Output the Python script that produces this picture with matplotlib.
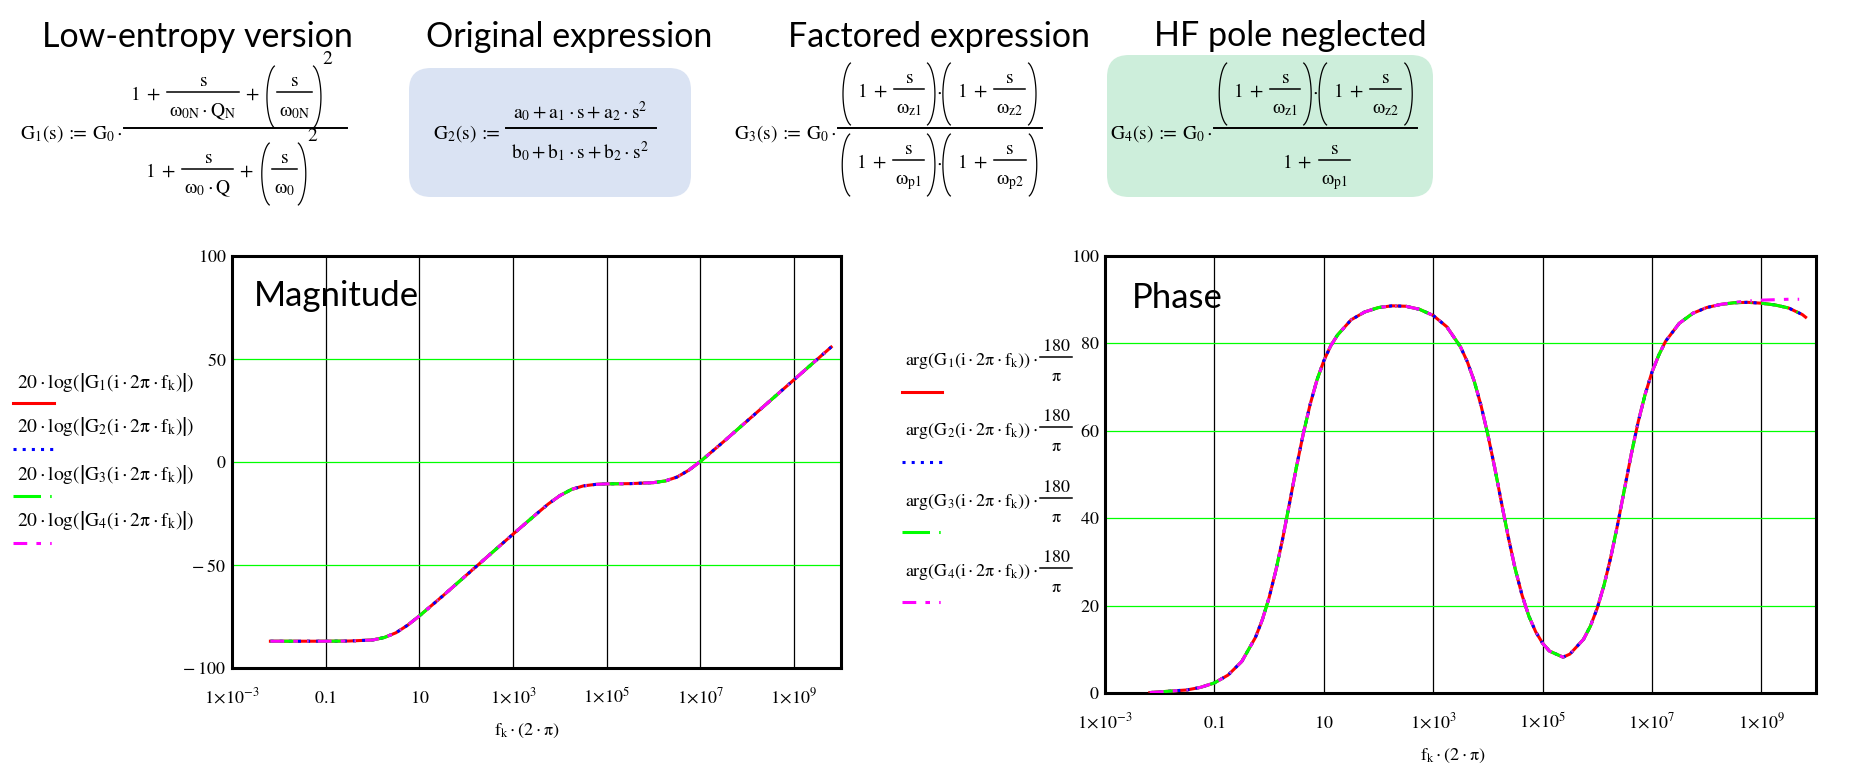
import matplotlib
matplotlib.use('Agg')
import matplotlib.pyplot as plt
import numpy as np
from matplotlib.patches import FancyBboxPatch
from matplotlib.lines import Line2D

plt.rcParams['font.family'] = 'STIXGeneral'
plt.rcParams['mathtext.fontset'] = 'stix'
plt.rcParams['mathtext.default'] = 'rm'

W, H = 1875, 777

# values: x is log10(f_k*(2*pi))
logw_mag = [-2.18, -1.5, -1.0, -0.5, 0.0, 0.25, 0.5, 0.75, 1.0, 1.5, 2.0, 2.5,
            3.0, 3.5, 3.75, 4.0, 4.25, 4.5, 4.75, 5.0, 5.5, 6.0, 6.25, 6.5,
            6.75, 7.0, 7.5, 8.0, 8.5, 9.0, 9.5, 9.79]
mag_g1 = [-87.0, -87.0, -87.0, -86.9, -86.4, -85.2, -82.9, -79.2, -74.7, -65.0,
          -55.0, -45.0, -35.0, -25.2, -20.4, -16.3, -13.3, -11.6, -10.9, -10.6,
          -10.5, -10.0, -9.2, -7.3, -4.0, 0.3, 10.0, 20.0, 30.0, 40.0, 50.0, 55.8]
# G2, G3, G4 sit on top of G1 at this resolution
mag_g2 = list(mag_g1)
mag_g3 = list(mag_g1)
mag_g4 = list(mag_g1)

logw_ph = [-2.18, -1.5, -1.25, -1.0, -0.75, -0.5, -0.25, -0.125, 0.0, 0.125, 0.25,
           0.375, 0.5, 0.625, 0.75, 0.875, 1.0, 1.125, 1.25, 1.5, 1.75, 2.0, 2.25,
           2.5, 2.75, 3.0, 3.25, 3.5, 3.625, 3.75, 3.875, 4.0, 4.125, 4.25, 4.375,
           4.5, 4.625, 4.75, 4.875, 5.0, 5.125, 5.25, 5.375, 5.5, 5.75, 5.875,
           6.0, 6.125, 6.25, 6.375, 6.5, 6.625, 6.75, 6.875, 7.0, 7.125, 7.25,
           7.5, 7.75, 8.0, 8.25, 8.5, 8.75, 9.0, 9.25, 9.5, 9.75, 9.81]
ph_g1 = [0.1, 0.7, 1.3, 2.3, 4.1, 7.2, 12.7, 16.7, 21.8, 28.1, 35.4,
         43.5, 51.7, 59.3, 66.0, 71.6, 76.0, 79.4, 81.9, 85.4, 87.2, 88.2, 88.6,
         88.5, 87.8, 86.4, 83.8, 79.2, 75.8, 71.4, 65.8, 59.1, 51.6, 43.5, 35.6,
         28.4, 22.4, 17.6, 14.0, 11.4, 9.6, 8.9, 8.2, 8.9, 12.3, 15.3,
         19.4, 24.7, 31.2, 38.7, 46.8, 54.8, 62.1, 68.3, 73.4, 77.3, 80.5,
         84.6, 86.9, 88.2, 88.9, 89.3, 89.4, 89.2, 88.8, 88.1, 86.6, 86.0]
ph_g2 = list(ph_g1)
ph_g3 = list(ph_g1)
# G4 (HF pole neglected) stays near 90 at the top end
ph_g4 = list(ph_g1[:-7]) + [89.4, 89.7, 89.9, 90.0, 90.1, 90.1, 90.1]

xticks = [1e-3, 1e-1, 1e1, 1e3, 1e5, 1e7, 1e9]
xtick_labels = [r'$1\!\times\!10^{-3}$', r'$0.1$', r'$10$', r'$1\!\times\!10^{3}$',
                r'$1\!\times\!10^{5}$', r'$1\!\times\!10^{7}$', r'$1\!\times\!10^{9}$']
mag_yticks = [-100, -50, 0, 50, 100]
mag_ylabels = [r'$-\;100$', r'$-\;50$', r'$0$', r'$50$', r'$100$']
ph_yticks = [0, 20, 40, 60, 80, 100]
ph_ylabels = ['$0$', '$20$', '$40$', '$60$', '$80$', '$100$']

GREEN = '#00ff00'
styles = [
    dict(color='#ff0000', ls='-'),
    dict(color='#0000ff', ls=(0, (1, 2))),
    dict(color=GREEN, ls=(0, (9, 3, 0.5, 3))),
    dict(color='#ff00ff', ls=(0, (4.5, 3, 1.5, 3, 0.5, 3))),
]


def fx(px):
    return px / W


def fy(py):
    return 1 - py / H


fig = plt.figure(figsize=(W / 100, H / 100), dpi=100)

ax_m = fig.add_axes([fx(232), fy(668), (841 - 232) / W, (668 - 256) / H])
ax_p = fig.add_axes([fx(1105), fy(693), (1816 - 1105) / W, (693 - 256) / H])


def setup(ax, yticks, ylabels, ylim):
    ax.set_xscale('log')
    ax.set_xlim(1e-3, 1e10)
    ax.set_ylim(*ylim)
    ax.set_xticks(xticks)
    ax.set_xticklabels(xtick_labels, va='baseline', fontsize=13)
    ax.minorticks_off()
    ax.set_yticks(yticks)
    ax.set_yticklabels(ylabels, fontsize=13)
    ax.tick_params(axis='both', length=0)
    ax.tick_params(axis='x', pad=25)
    ax.tick_params(axis='y', pad=4)
    ax.xaxis.grid(True, color='black', lw=0.9)
    ax.yaxis.grid(True, color=GREEN, lw=0.9)
    ax.set_axisbelow(True)
    for sp in ax.spines.values():
        sp.set_linewidth(2.2)
        sp.set_color('black')


setup(ax_m, mag_yticks, mag_ylabels, (-100, 100))
setup(ax_p, ph_yticks, ph_ylabels, (0, 100))

wm = np.power(10.0, logw_mag)
wp = np.power(10.0, logw_ph)
for vals, st in zip([mag_g1, mag_g2, mag_g3, mag_g4], styles):
    ax_m.plot(wm, vals, lw=2.2, zorder=3, **st)
for vals, st in zip([ph_g1, ph_g2, ph_g3, ph_g4], styles):
    ax_p.plot(wp, vals, lw=2.2, zorder=3, **st)

# overlay in pixel coordinates (y down) for titles, formulas and legends
bg = fig.add_axes([0, 0, 1, 1], zorder=10)
bg.set_xlim(0, W)
bg.set_ylim(H, 0)
bg.axis('off')
renderer = fig.canvas.get_renderer()

bg.add_patch(FancyBboxPatch((409, 68), 282, 129, boxstyle='round,pad=0,rounding_size=22',
                            fc='#dae3f3', ec='none'))
bg.add_patch(FancyBboxPatch((1107, 55), 326, 142, boxstyle='round,pad=0,rounding_size=22',
                            fc='#cdeedb', ec='none'))

title_font = dict(family='Lato', fontsize=24.5, va='baseline', ha='center')
bg.text(197, 47, 'Low-entropy version', **title_font)
bg.text(569, 47, 'Original expression', **title_font)
bg.text(939, 47, 'Factored expression', **title_font)
bg.text(1290, 46, 'HF pole neglected', **title_font)

bg.text(254, 306, 'Magnitude', family='Lato', fontsize=25, va='baseline')
bg.text(1132, 308, 'Phase', family='Lato', fontsize=25, va='baseline')

# --- small layout helper for Mathcad-like formulas ---
FS = 14


def text_w(s, fs=FS):
    t = bg.text(0, 0, s, fontsize=fs)
    w = t.get_window_extent(renderer).width
    t.remove()
    return w


def put(x, y, s, fs=FS, ha='left'):
    bg.text(x, y, s, fontsize=fs, ha=ha, va='baseline')


def hline(x0, x1, y, lw=1.1):
    bg.add_line(Line2D([x0, x1], [y, y], color='black', lw=lw))


def paren(x, top, bot, left):
    a, b = 10.0, (bot - top) / 2
    if left:
        t = np.radians(np.linspace(105, 255, 40))
        cx = x + 1 + a
    else:
        t = np.radians(np.linspace(-75, 75, 40))
        cx = x + 7 - a
    bg.add_line(Line2D(cx + a * np.cos(t), (top + bot) / 2 + b * np.sin(t),
                       color='black', lw=0.9))


def T(s):
    return ('t', s)


def F(n, d):
    return ('f', n, d)


def G(px):
    return ('g', px)


PLUS = [G(6), T('$+$'), G(7)]


def layout(items, x, base, draw=True, fs=FS):
    bar = base - 8
    for it in items:
        kind = it[0]
        if kind == 't':
            if draw:
                put(x, base, it[1], fs=fs)
            x += text_w(it[1], fs)
        elif kind == 'g':
            x += it[1]
        elif kind == 'f':
            w = max(text_w(it[1], fs), text_w(it[2], fs)) + 4
            if draw:
                hline(x, x + w, bar)
                put(x + w / 2, bar - 6, it[1], fs=fs, ha='center')
                put(x + w / 2, bar + 24, it[2], fs=fs, ha='center')
            x += w
        elif kind == '(':
            if draw:
                paren(x, bar - 27, bar + 37, True)
            x += 11
        elif kind == ')':
            x += 2
            if draw:
                paren(x, bar - 27, bar + 37, False)
            x += 8
            if len(it) > 1:
                if draw:
                    put(x, bar - 28, it[1], fs=fs)
                x += text_w(it[1], fs)
    return x


def formula(x, n, num, den, num_base, den_base, lpad, rpad, bar_y=128, with_g0=True):
    prefix = [T('$G_%d(s)$' % n), G(5), T(':='), G(5)]
    if with_g0:
        prefix += [T(r'$G_0\cdot$')]
    x0 = layout(prefix, x, bar_y + 11) + 1
    wn = layout(num, 0, 0, draw=False)
    wd = layout(den, 0, 0, draw=False)
    wc = max(wn, wd)
    hline(x0, x0 + lpad + wc + rpad, bar_y, lw=1.4)
    layout(num, x0 + lpad + (wc - wn) / 2, num_base)
    layout(den, x0 + lpad + (wc - wd) / 2, den_base)


g1_num = [T('$1$')] + PLUS + [F('$s$', r'$\omega_{0N}\cdot Q_N$')] + PLUS + \
         [('(',), F('$s$', r'$\omega_{0N}$'), (')', '$2$')]
g1_den = [T('$1$')] + PLUS + [F('$s$', r'$\omega_0\cdot Q$')] + PLUS + \
         [('(',), F('$s$', r'$\omega_0$'), (')', '$2$')]
g2_num = [T(r'$a_0+a_1\cdot s+a_2\cdot s^2$')]
g2_den = [T(r'$b_0+b_1\cdot s+b_2\cdot s^2$')]


def two_factors(a, b):
    return ([('(',), G(4), T('$1$')] + PLUS + [F('$s$', r'$\omega_{%s}$' % a), G(2), (')',),
            T(r'$\cdot$'), ('(',), G(4), T('$1$')] + PLUS +
            [F('$s$', r'$\omega_{%s}$' % b), G(2), (')',)])


g3_num = two_factors('z1', 'z2')
g3_den = two_factors('p1', 'p2')
g4_den = [T('$1$')] + PLUS + [F('$s$', r'$\omega_{p1}$')]

formula(20, 1, g1_num, g1_den, 100, 177, 6, 14)
formula(433, 2, g2_num, g2_den, 118, 158, 5, 7, with_g0=False)
formula(734, 3, g3_num, g3_den, 97, 168, 3, 4)
formula(1110, 4, g3_num, g4_den, 97, 168, 4, 4)

# legends
mag_leg_y = [382, 427, 474, 520]
mag_line_y = [403, 449, 496, 543]
ph_bar_y = [357, 427, 498, 568]
ph_line_y = [392, 462, 532, 602]
for i in range(4):
    n = i + 1
    bg.text(17, mag_leg_y[i],
            r'$20\cdot\mathrm{log}\left(\left|G_%d\left(i\cdot 2\pi\cdot f_k\right)\right|\right)$' % n,
            fontsize=14, va='center')
    bg.add_line(Line2D([13, 54], [mag_line_y[i]] * 2, lw=2.2, **styles[i]))
    layout([T(r'$\mathrm{arg}\left(G_%d\left(i\cdot 2\pi\cdot f_k\right)\right)\cdot$' % n),
            G(2), F('$180$', r'$\pi$')], 905, ph_bar_y[i] + 8, fs=13)
    bg.add_line(Line2D([902, 942], [ph_line_y[i]] * 2, lw=2.2, **styles[i]))

bg.text(527, 735, r'$f_k\cdot(2\cdot\pi)$', fontsize=13, ha='center', va='baseline')
bg.text(1453, 760, r'$f_k\cdot(2\cdot\pi)$', fontsize=13, ha='center', va='baseline')

fig.savefig('out.png', dpi=100)
